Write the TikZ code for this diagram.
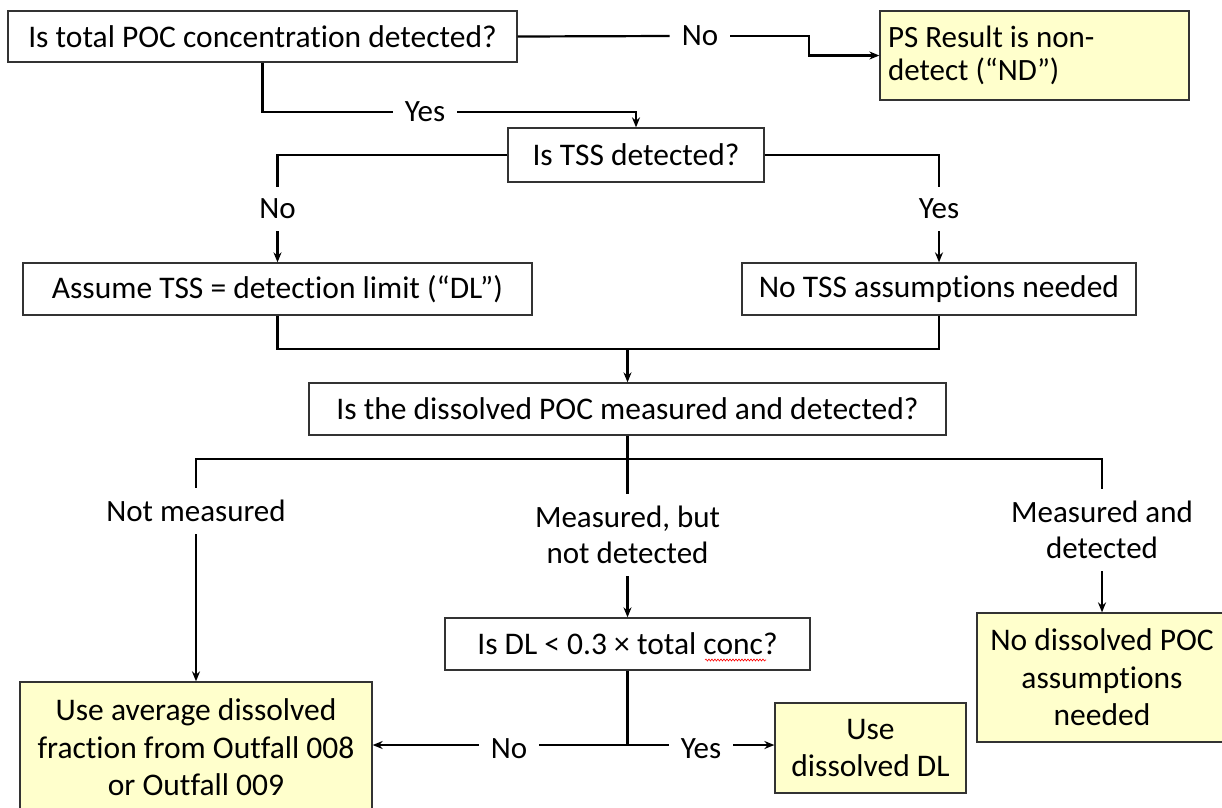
\documentclass[tikz,border=0pt]{standalone}
\usepackage{fontspec}
\setmainfont{Carlito}[Ligatures=NoCommon]
\usetikzlibrary{arrows.meta,decorations.pathmorphing}
\definecolor{yellowfill}{HTML}{FFFFCC}
\definecolor{boxline}{HTML}{333333}
\begin{document}
\begin{tikzpicture}[x=1pt,y=-1pt,
  box/.style={draw=boxline, line width=1.3pt, fill=white, inner sep=0pt, align=center,
    font=\fontsize{31.5}{37.5}\selectfont},
  res/.style={box, fill=yellowfill},
  lbl/.style={inner xsep=12pt, inner ysep=12pt, align=center, font=\fontsize{31}{36}\selectfont},
  conn/.style={line width=2.2pt, black},
  arr/.style={conn, -{Stealth[length=10pt,width=8pt]}},
  spell/.style={red, line width=0.6pt, decorate, decoration={snake, amplitude=1pt, segment length=3pt}}
]
\useasboundingbox (0,0) rectangle (1222,807);
\clip (0,0) rectangle (1222,807);

% boxes
\node[box, minimum width=509pt, minimum height=51pt] (q1) at (262.5,36.5) {Is total POC concentration detected?};
\node[res, minimum width=309pt, minimum height=89pt, text width=293pt, inner xsep=8pt, align=flush left,
  font=\fontsize{31}{33}\selectfont] (ps) at (1034.5,55.5) {PS Result is non-\\detect (“ND”)};
\node[box, minimum width=256pt, minimum height=54pt] (q2) at (636,155) {Is TSS detected?};
\node[box, minimum width=509pt, minimum height=52pt] (q3) at (277.5,289) {Assume TSS = detection limit (“DL”)};
\node[box, minimum width=394pt, minimum height=52pt] (q4) at (939,289) {No TSS assumptions needed};
\node[box, minimum width=637pt, minimum height=52pt] (q5) at (627.5,409) {Is the dissolved POC measured and detected?};
\node[box, minimum width=365pt, minimum height=52pt] (q6) at (627.5,644) {Is DL < 0.3 × total conc?};
\node[res, minimum width=352pt, minimum height=131pt] (q7) at (196,747.5) {Use average dissolved\\fraction from Outfall 008\\or Outfall 009};
\node[res, minimum width=191pt, minimum height=90pt] (q8) at (870.5,748) {Use\\dissolved DL};
\node[res, minimum width=250pt, minimum height=129pt] (q9) at (1102,677.5) {No dissolved POC\\assumptions\\needed};

% spell-check underline
\draw[spell] (705,660) -- (766,660);

% labels
\node[lbl] (no1) at (700,36) {No};
\node[lbl] (yes1) at (425,112) {Yes};
\node[lbl] (no2) at (277.5,209) {No};
\node[lbl] (yes2) at (939,209) {Yes};
\node[lbl] (nm) at (196,511) {Not measured};
\node[lbl] (mbnd) at (627.5,535) {Measured, but\\not detected};
\node[lbl] (md) at (1102,530) {Measured and\\detected};
\node[lbl] (no3) at (509,749) {No};
\node[lbl] (yes3) at (701,749) {Yes};

% junctions
\coordinate (m1) at (627.5,349);
\coordinate (s1) at (627.5,459);
\coordinate (s2) at (627.5,745);

% connectors
\draw[conn] (q1.east) -- (no1.west);
\draw[arr] (no1.east) -- ++(79,0) |- (ps.west);
\draw[conn] (q1.south) |- (yes1.west);
\draw[arr] (yes1.east) -| (q2.north);
\draw[conn] (q2.west) -| (no2.north);
\draw[conn] (q2.east) -| (yes2.north);
\draw[arr] (no2.south) -- (q3.north);
\draw[arr] (yes2.south) -- (q4.north);
\draw[conn] (q3.south) |- (m1);
\draw[conn] (q4.south) |- (m1);
\draw[arr] (m1) -- (q5.north);
\draw[conn] (q5.south) -- (s1);
\draw[conn] (s1) -| (nm.north);
\draw[conn] (s1) -| (md.north);
\draw[conn] (s1) -- (mbnd.north);
\draw[arr] (nm.south) -- (q7.north);
\draw[arr] (mbnd.south) -- (q6.north);
\draw[arr] (md.south) -- (q9.north);
\draw[conn] (q6.south) -- (s2);
\draw[conn] (s2) -- (s2 -| no3.east);
\draw[arr] (no3.west |- s2) -- (s2 -| q7.east);
\draw[conn] (s2) -- (s2 -| yes3.west);
\draw[arr] (yes3.east |- s2) -- (s2 -| q8.west);
\end{tikzpicture}
\end{document}
